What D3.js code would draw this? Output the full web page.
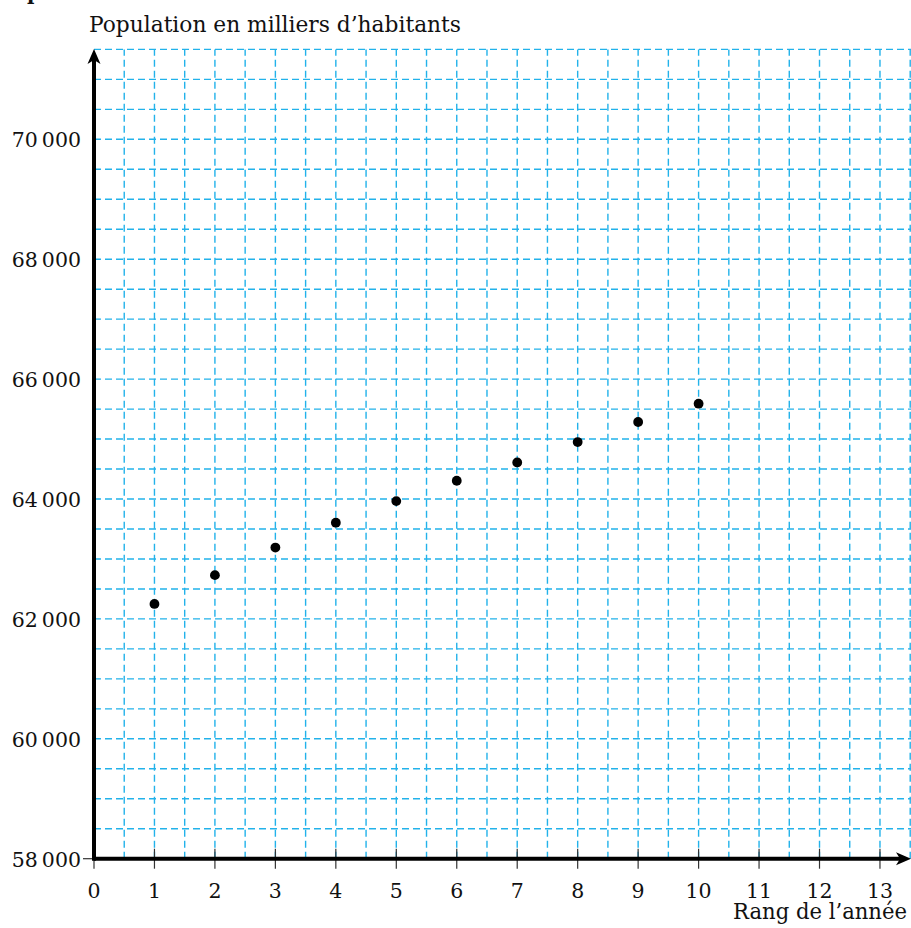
<!DOCTYPE html>
<html>
<head>
<meta charset="utf-8">
<script src="https://cdn.jsdelivr.net/npm/d3@7"></script>
<style>
  html, body { margin: 0; padding: 0; background: #fff; }
  svg { display: block; }
  text { font-family: "DejaVu Serif", serif; fill: #111; }
</style>
</head>
<body>
<svg id="chart" width="911" height="928"></svg>
<script>
// ---- data ----
const years = [1, 2, 3, 4, 5, 6, 7, 8, 9, 10];
const population = [62250, 62730, 63190, 63605, 63965, 64305, 64610, 64950, 65285, 65590];
const xTickLabels = ["0","1","2","3","4","5","6","7","8","9","10","11","12","13"];
const yTickValues = [58000, 60000, 62000, 64000, 66000, 68000, 70000];
const yTickLabels = ["58\u2009000","60\u2009000","62\u2009000","64\u2009000","66\u2009000","68\u2009000","70\u2009000"];
const yTitle = "Population en milliers d\u2019habitants";
const xTitle = "Rang de l\u2019ann\u00e9e";

// ---- scales ----
const svg = d3.select("#chart");
const x = d3.scaleLinear().domain([0, 13.5]).range([94, 910.2]);
const y = d3.scaleLinear().domain([58000, 71500]).range([858.7, 49.4]);

const gridColor = "#22b2ea";

// cropped heading fragment at the very top
svg.append("text").attr("x", 27).attr("y", 0)
  .style("font-weight", "bold").style("font-size", "20px").text("p");

// grid
const grid = svg.append("g");
const xGrid = d3.range(1, 28).map(i => i * 0.5);
const yGrid = d3.range(1, 28).map(i => 58000 + i * 500);
grid.selectAll("line.v").data(xGrid).join("line")
  .attr("x1", d => x(d)).attr("x2", d => x(d))
  .attr("y1", y(58000)).attr("y2", y(71500))
  .attr("stroke", gridColor).attr("stroke-width", 1.4)
  .attr("stroke-dasharray", "7,4");
grid.selectAll("line.h").data(yGrid).join("line")
  .attr("y1", d => y(d)).attr("y2", d => y(d))
  .attr("x1", x(0)).attr("x2", 911)
  .attr("stroke", gridColor).attr("stroke-width", 1.4)
  .attr("stroke-dasharray", "7,4");

// x-axis ticks & labels
const xAxis = svg.append("g");
xAxis.selectAll("line").data(d3.range(0, 14)).join("line")
  .attr("x1", d => x(d)).attr("x2", d => x(d))
  .attr("y1", d => d === 0 ? y(58000) : y(58000) - 10)
  .attr("y2", y(58000) + 10)
  .attr("stroke", "#333").attr("stroke-width", 1.2);
xAxis.selectAll("text").data(xTickLabels).join("text")
  .attr("x", (d, i) => x(i)).attr("y", 898)
  .attr("text-anchor", "middle").style("font-size", "20.5px")
  .text(d => d);

// y-axis tick at origin and labels
svg.append("line").attr("x1", x(0) - 11).attr("x2", x(0))
  .attr("y1", y(58000)).attr("y2", y(58000))
  .attr("stroke", "#333").attr("stroke-width", 1.2);
svg.append("g").selectAll("text").data(yTickValues).join("text")
  .attr("x", 81).attr("y", d => y(d) + 8)
  .attr("text-anchor", "end").style("font-size", "20.5px")
  .text((d, i) => yTickLabels[i]);

// axes lines with arrows
svg.append("line").attr("x1", x(0)).attr("x2", 902)
  .attr("y1", y(58000)).attr("y2", y(58000))
  .attr("stroke", "#000").attr("stroke-width", 4);
svg.append("line").attr("x1", x(0)).attr("x2", x(0))
  .attr("y1", y(58000) + 2).attr("y2", 58)
  .attr("stroke", "#000").attr("stroke-width", 4);
const ax = 911, ay = y(58000);
svg.append("path")
  .attr("d", `M${ax},${ay} L${ax-15},${ay-6.5} L${ax-11},${ay} L${ax-15},${ay+6.5} Z`)
  .attr("fill", "#000");
const tx = x(0), ty = 49;
svg.append("path")
  .attr("d", `M${tx},${ty} L${tx-6.5},${ty+15} L${tx},${ty+11} L${tx+6.5},${ty+15} Z`)
  .attr("fill", "#000");

// titles
svg.append("text").attr("x", 89).attr("y", 31.5)
  .style("font-size", "21.5px")
  .attr("textLength", 372).attr("lengthAdjust", "spacingAndGlyphs")
  .text(yTitle);
svg.append("text").attr("x", 907).attr("y", 919)
  .attr("text-anchor", "end").style("font-size", "21.5px")
  .attr("textLength", 174).attr("lengthAdjust", "spacingAndGlyphs")
  .text(xTitle);

// points
svg.append("g").selectAll("circle").data(years).join("circle")
  .attr("cx", d => x(d)).attr("cy", (d, i) => y(population[i]))
  .attr("r", 4.9).attr("fill", "#000");
</script>
</body>
</html>
